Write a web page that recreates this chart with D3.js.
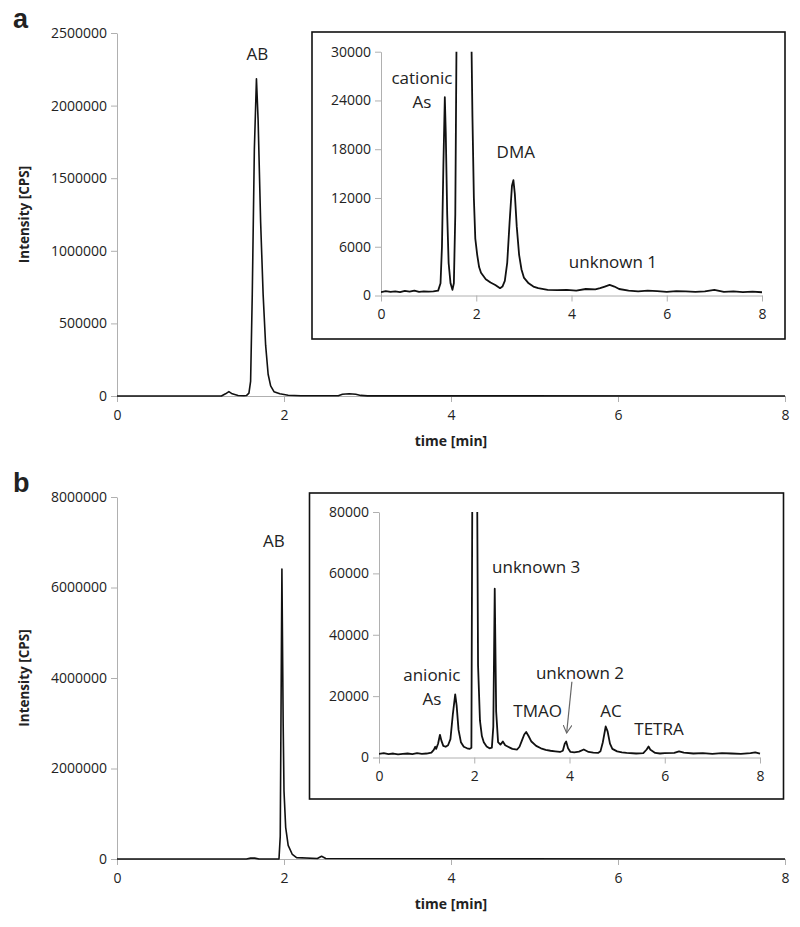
<!DOCTYPE html>
<html>
<head>
<meta charset="utf-8">
<script src="https://cdn.jsdelivr.net/npm/d3@7"></script>
<style>
  body { margin: 0; background: #fff; }
  text { font-family: "Open Sans", sans-serif; fill: #222; }
</style>
</head>
<body>
<svg id="chart" width="800" height="927"></svg>
<script>
// ---- data ----
const timeTicks = [0, 2, 4, 6, 8];

// panel a, full chromatogram
const mainTicksA = [0, 500000, 1000000, 1500000, 2000000, 2500000];
const timeA = [0, 1.25, 1.3, 1.34, 1.38, 1.45, 1.52, 1.55, 1.58, 1.6, 1.62, 1.645, 1.67, 1.69, 1.72, 1.75, 1.78, 1.81, 1.84, 1.88, 1.95, 2.05, 2.2, 2.65, 2.7, 2.78, 2.86, 2.92, 3.0, 8];
const intensityA = [0, 0, 15000, 30000, 15000, 3000, 2000, 3000, 20000, 100000, 700000, 1700000, 2185000, 1900000, 1200000, 700000, 350000, 150000, 70000, 30000, 15000, 5000, 2000, 2000, 12000, 15000, 12000, 4000, 1000, 0];

// panel a, inset (zoom 0-30000)
const insetTicksA = [0, 6000, 12000, 18000, 24000, 30000];
const insetTimeA = [0, 0.1, 0.2, 0.3, 0.4, 0.5, 0.6, 0.7, 0.8, 0.9, 1.0, 1.1, 1.2, 1.25, 1.28, 1.31, 1.34, 1.36, 1.39, 1.42, 1.46, 1.5, 1.53, 1.56, 1.59, 1.62, 1.67, 1.75, 1.88, 1.92, 1.95, 1.98, 2.02, 2.06, 2.1, 2.15, 2.2, 2.3, 2.4, 2.5, 2.55, 2.6, 2.65, 2.7, 2.75, 2.78, 2.81, 2.85, 2.9, 2.95, 3.0, 3.1, 3.2, 3.3, 3.5, 3.7, 3.9, 4.1, 4.3, 4.5, 4.6, 4.7, 4.8, 4.9, 5.0, 5.2, 5.4, 5.6, 5.8, 6.0, 6.2, 6.4, 6.6, 6.8, 7.0, 7.2, 7.4, 7.6, 7.8, 8.0];
const insetIntensityA = [400, 550, 450, 500, 420, 560, 480, 600, 450, 520, 480, 500, 600, 1500, 6000, 16000, 24400, 20000, 10000, 4000, 1500, 700, 1500, 10000, 35000, 200000, 2185000, 500000, 40000, 22000, 12000, 7000, 5000, 3500, 2800, 2400, 2000, 1600, 1300, 900, 1100, 1800, 4000, 9000, 13500, 14200, 12500, 8500, 5000, 3200, 2200, 1500, 1100, 900, 700, 650, 700, 600, 800, 750, 900, 1100, 1300, 1100, 800, 600, 500, 600, 550, 450, 550, 500, 450, 500, 700, 450, 500, 420, 480, 400];

// panel b, full chromatogram
const mainTicksB = [0, 2000000, 4000000, 6000000, 8000000];
const timeB = [0, 1.55, 1.6, 1.65, 1.7, 1.94, 1.955, 1.975, 1.99, 2.0, 2.02, 2.05, 2.1, 2.15, 2.4, 2.45, 2.5, 8];
const intensityB = [0, 0, 20000, 20000, 0, 0, 500000, 6410000, 3000000, 1500000, 700000, 300000, 100000, 30000, 10000, 60000, 10000, 0];

// panel b, inset (zoom 0-80000)
const insetTicksB = [0, 20000, 40000, 60000, 80000];
const insetTimeB = [0, 0.1, 0.2, 0.3, 0.4, 0.5, 0.6, 0.7, 0.8, 0.9, 1.0, 1.1, 1.15, 1.18, 1.2, 1.24, 1.28, 1.31, 1.35, 1.4, 1.45, 1.5, 1.55, 1.6, 1.63, 1.67, 1.72, 1.78, 1.85, 1.9, 1.94, 1.96, 2.0, 2.06, 2.08, 2.12, 2.16, 2.2, 2.26, 2.32, 2.37, 2.4, 2.43, 2.46, 2.5, 2.55, 2.6, 2.65, 2.7, 2.8, 2.9, 2.95, 3.0, 3.05, 3.09, 3.14, 3.2, 3.3, 3.4, 3.5, 3.6, 3.7, 3.8, 3.86, 3.9, 3.93, 3.97, 4.02, 4.1, 4.2, 4.3, 4.4, 4.5, 4.6, 4.65, 4.7, 4.76, 4.8, 4.85, 4.9, 5.0, 5.1, 5.2, 5.4, 5.55, 5.62, 5.66, 5.7, 5.8, 5.9, 6.0, 6.2, 6.3, 6.4, 6.6, 6.8, 7.0, 7.2, 7.4, 7.6, 7.8, 7.9, 8.0];
const insetIntensityB = [1200, 1400, 1100, 1300, 1000, 1200, 1300, 1100, 1400, 1200, 1300, 1600, 2500, 3500, 2800, 4500, 7400, 5500, 3800, 3500, 4000, 6000, 14000, 20600, 17000, 9000, 5000, 3500, 3000, 2800, 3200, 90000, 6400000, 90000, 30000, 12000, 7000, 5000, 3600, 3000, 3200, 10000, 55000, 15000, 5000, 4200, 5200, 4000, 3600, 2800, 2600, 3500, 5500, 7500, 8300, 7000, 5200, 3800, 3000, 2500, 2200, 2000, 1800, 2200, 4500, 5200, 3000, 1800, 1700, 1900, 2600, 1800, 1600, 1500, 2000, 5000, 10100, 8500, 4500, 2800, 2000, 1700, 1500, 1300, 1400, 2600, 3600, 2500, 1500, 1300, 1400, 1500, 2000, 1600, 1300, 1400, 1200, 1400, 1300, 1200, 1400, 1700, 1300];

// peak labels: text lines anchored at (time, intensity)
const labelsMainA = [{ text: "AB", t: 1.68, v: 2314000 }];
const labelsInsetA = [
  { text: "cationic", t: 0.86, v: 26030 },
  { text: "As", t: 0.86, v: 23040 },
  { text: "DMA", t: 2.83, v: 16960 },
  { text: "unknown 1", t: 4.87, v: 3350 }
];
const labelsMainB = [{ text: "AB", t: 1.88, v: 6900000 }];
const labelsInsetB = [
  { text: "unknown 3", t: 3.30, v: 60220 },
  { text: "anionic", t: 1.11, v: 24930 },
  { text: "As", t: 1.11, v: 17110 },
  { text: "TMAO", t: 3.33, v: 13100 },
  { text: "unknown 2", t: 4.22, v: 25580 },
  { text: "AC", t: 4.87, v: 13100 },
  { text: "TETRA", t: 5.88, v: 7330 }
];
// arrow for unknown 2: from (t, v) to (t, v)
const arrowB = { t0: 4.05, v0: 24700, t1: 3.94, v1: 7980 };

const svg = d3.select("#chart");

svg.append("defs").append("marker")
  .attr("id", "vhead")
  .attr("viewBox", "0 0 10 10")
  .attr("refX", 9).attr("refY", 5)
  .attr("markerWidth", 9).attr("markerHeight", 9)
  .attr("markerUnits", "userSpaceOnUse")
  .attr("orient", "auto")
  .append("path")
  .attr("d", "M0,0 L9,5 L0,10")
  .attr("fill", "none")
  .attr("stroke", "#666")
  .attr("stroke-width", 1.2);

function drawAxes(g, x, y, yTicks, fontSize) {
  let ya = g.append("g")
    .attr("transform", `translate(${x.range()[0]},0)`)
    .call(d3.axisLeft(y).tickValues(yTicks).tickSize(6).tickSizeOuter(0).tickPadding(4).tickFormat(d3.format("d")));
  let xa = g.append("g")
    .attr("transform", `translate(0,${y.range()[0]})`)
    .call(d3.axisBottom(x).tickValues(timeTicks).tickSize(6).tickSizeOuter(0).tickPadding(8).tickFormat(d3.format("d")));
  [ya, xa].forEach(a => {
    a.select(".domain").attr("stroke", "#b0b0b0").attr("stroke-width", 1);
    a.selectAll(".tick line").attr("stroke", "#b0b0b0");
    a.selectAll(".tick text")
      .style("font-family", "'Open Sans', sans-serif")
      .style("font-size", fontSize + "px")
      .attr("fill", "#222");
  });
}

function drawTrace(g, x, y, ts, vs, width, clipId) {
  let pts = ts.map((t, i) => [t, vs[i]]);
  let line = d3.line().x(d => x(d[0])).y(d => y(d[1]));
  let p = g.append("path")
    .datum(pts)
    .attr("d", line)
    .attr("fill", "none")
    .attr("stroke", "#111")
    .attr("stroke-width", width)
    .attr("stroke-linejoin", "round");
  if (clipId) p.attr("clip-path", `url(#${clipId})`);
}

function drawLabels(g, x, y, labels) {
  g.selectAll(null)
    .data(labels)
    .enter().append("text")
    .attr("x", d => x(d.t))
    .attr("y", d => y(d.v))
    .attr("text-anchor", "middle")
    .style("font-size", "17px")
    .text(d => d.text);
}

function panel(opt) {
  let g = svg.append("g");
  // main chromatogram
  let x = d3.scaleLinear().domain([0, 8]).range([117, 785]);
  let y = d3.scaleLinear().domain([0, opt.mainMax]).range(opt.mainY);
  drawAxes(g, x, y, opt.mainTicks, 14);
  drawTrace(g, x, y, opt.time, opt.intensity, 1.6);
  drawLabels(g, x, y, opt.mainLabels);

  g.append("text")
    .attr("transform", `translate(29,${(opt.mainY[0] + opt.mainY[1]) / 2}) rotate(-90)`)
    .attr("text-anchor", "middle")
    .style("font-size", "13.5px")
    .style("font-weight", "bold")
    .text("Intensity [CPS]");
  g.append("text")
    .attr("x", 451)
    .attr("y", opt.mainY[0] + 50)
    .attr("text-anchor", "middle")
    .style("font-size", "14px")
    .style("font-weight", "bold")
    .text("time [min]");
  g.append("text")
    .attr("x", 13)
    .attr("y", opt.letterY)
    .style("font-family", "'Liberation Sans', Arial, sans-serif")
    .style("font-size", "27px")
    .style("font-weight", "bold")
    .attr("fill", "#000")
    .text(opt.letter);

  // inset
  let b = opt.box;
  g.append("rect")
    .attr("x", b[0]).attr("y", b[1])
    .attr("width", b[2] - b[0]).attr("height", b[3] - b[1])
    .attr("fill", "#fff")
    .attr("stroke", "#111")
    .attr("stroke-width", 1.6);
  let xi = d3.scaleLinear().domain([0, 8]).range(opt.insetX);
  let yi = d3.scaleLinear().domain([0, opt.insetMax]).range(opt.insetY);
  drawAxes(g, xi, yi, opt.insetTicks, 14);
  g.append("clipPath").attr("id", opt.clipId)
    .append("rect")
    .attr("x", opt.insetX[0]).attr("y", opt.insetY[1])
    .attr("width", opt.insetX[1] - opt.insetX[0] + 2)
    .attr("height", opt.insetY[0] - opt.insetY[1] + 4);
  drawTrace(g, xi, yi, opt.insetTime, opt.insetIntensity, 1.8, opt.clipId);
  drawLabels(g, xi, yi, opt.insetLabels);
  if (opt.arrow) {
    let a = opt.arrow;
    g.append("line")
      .attr("x1", xi(a.t0)).attr("y1", yi(a.v0))
      .attr("x2", xi(a.t1)).attr("y2", yi(a.v1))
      .attr("stroke", "#666")
      .attr("stroke-width", 1.2)
      .attr("marker-end", "url(#vhead)");
  }
}

panel({
  letter: "a", letterY: 28,
  mainMax: 2500000, mainY: [396, 33], mainTicks: mainTicksA,
  time: timeA, intensity: intensityA, mainLabels: labelsMainA,
  box: [312, 32, 785, 339],
  insetX: [381, 762], insetY: [295.5, 51.7], insetMax: 30000, insetTicks: insetTicksA,
  insetTime: insetTimeA, insetIntensity: insetIntensityA, insetLabels: labelsInsetA,
  clipId: "clipA"
});

panel({
  letter: "b", letterY: 492,
  mainMax: 8000000, mainY: [859, 497], mainTicks: mainTicksB,
  time: timeB, intensity: intensityB, mainLabels: labelsMainB,
  box: [309.5, 493, 783.5, 799],
  insetX: [379, 760], insetY: [757.5, 512], insetMax: 80000, insetTicks: insetTicksB,
  insetTime: insetTimeB, insetIntensity: insetIntensityB, insetLabels: labelsInsetB,
  clipId: "clipB", arrow: arrowB
});
</script>
</body>
</html>
